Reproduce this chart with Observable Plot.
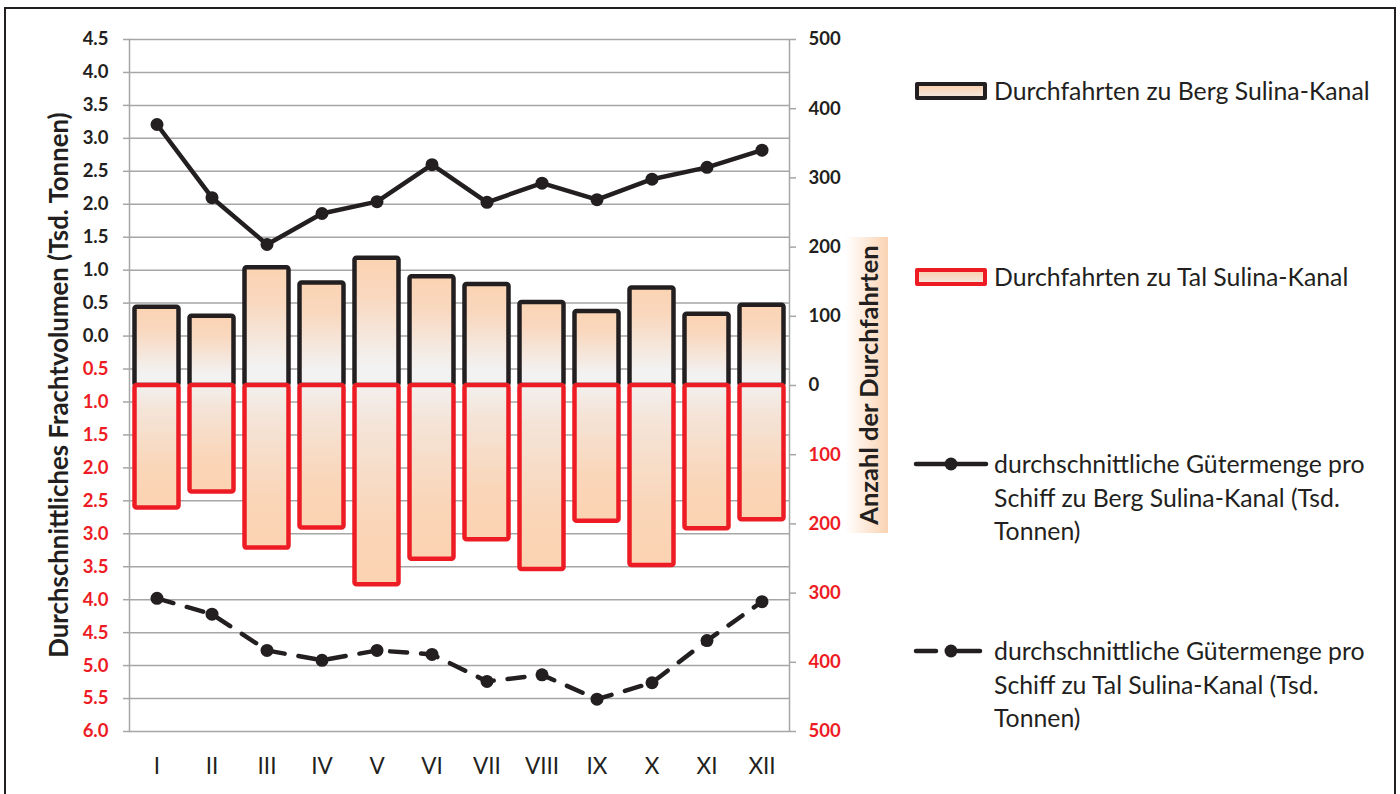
<!DOCTYPE html>
<html>
<head>
<meta charset="utf-8">
<script src="https://cdn.jsdelivr.net/npm/d3@7"></script>
<script src="https://cdn.jsdelivr.net/npm/@observablehq/plot@0.6"></script>
<style>
  html, body { margin: 0; padding: 0; background: #fff; }
  #wrap { position: relative; width: 1400px; height: 794px; overflow: hidden; font-family: Lato, "Open Sans", sans-serif; color: #231f20; }
  #border { position: absolute; left: 4px; top: 7px; width: 1392px; height: 820px; border: 2px solid #231f20; box-sizing: border-box; }
  #chart { position: absolute; left: 0; top: 0; }
  .lg { position: absolute; font-size: 24.8px; line-height: 33.5px; color: #231f20; white-space: nowrap; }
  .sw { position: absolute; box-sizing: border-box; width: 72px; height: 18px; border-radius: 2px; background: linear-gradient(to bottom, #fad2b1, #f5e6da); }
  #ltitle { position: absolute; left: 58px; top: 385px; transform: translate(-50%, -50%) rotate(-90deg); font-size: 25.8px; font-weight: bold; white-space: nowrap; }
  #rbox { position: absolute; left: 845px; top: 237px; width: 43px; height: 296px; background: linear-gradient(to right, #ffffff, #fad3b3); }
  #rtitle { position: absolute; left: 868px; top: 385px; transform: translate(-50%, -50%) rotate(-90deg); font-size: 25.5px; font-weight: bold; white-space: nowrap; }
</style>
</head>
<body>
<div id="wrap">
  <div id="chart"></div>
  <div id="border"></div>
  <div id="ltitle">Durchschnittliches Frachtvolumen (Tsd. Tonnen)</div>
  <div id="rbox"></div>
  <div id="rtitle">Anzahl der Durchfahrten</div>
  <div class="sw" style="left:915px;top:82px;border:4px solid #231f20;"></div>
  <div class="lg" style="left:994px;top:74px;">Durchfahrten zu Berg Sulina-Kanal</div>
  <div class="sw" style="left:915px;top:268px;border:4px solid #ed1c24;"></div>
  <div class="lg" style="left:994px;top:260px;">Durchfahrten zu Tal Sulina-Kanal</div>
  <svg style="position:absolute;left:912px;top:455px" width="80" height="18">
    <line x1="4" y1="9" x2="74" y2="9" stroke="#231f20" stroke-width="4.5" stroke-linecap="round"/>
    <circle cx="39" cy="9" r="6.5" fill="#231f20"/>
  </svg>
  <div class="lg" style="left:994px;top:447px;">durchschnittliche Gütermenge pro<br>Schiff zu Berg Sulina-Kanal (Tsd.<br>Tonnen)</div>
  <svg style="position:absolute;left:912px;top:642px" width="80" height="18">
    <line x1="4" y1="9" x2="24" y2="9" stroke="#231f20" stroke-width="4.5" stroke-linecap="round"/>
    <line x1="46" y1="9" x2="68" y2="9" stroke="#231f20" stroke-width="4.5" stroke-linecap="round"/>
    <circle cx="39" cy="9" r="6.5" fill="#231f20"/>
  </svg>
  <div class="lg" style="left:994px;top:634px;">durchschnittliche Gütermenge pro<br>Schiff zu Tal Sulina-Kanal (Tsd.<br>Tonnen)</div>
</div>
<script>
// ---- data ----
const months = ["I","II","III","IV","V","VI","VII","VIII","IX","X","XI","XII"];
const bergShips = [113,100,170,148,184,157,146,120,107,141,103,116];   // Durchfahrten zu Berg
const talShips  = [177,154,235,206,288,251,223,266,196,260,207,194];   // Durchfahrten zu Tal
const bergCargo = [3.21,2.10,1.39,1.86,2.04,2.60,2.03,2.32,2.07,2.38,2.56,2.82]; // Tsd. Tonnen
const talCargo  = [3.98,4.22,4.77,4.92,4.77,4.83,5.24,5.14,5.51,5.26,4.62,4.03]; // Tsd. Tonnen
const leftTicksUp   = [4.5,4.0,3.5,3.0,2.5,2.0,1.5,1.0,0.5,0.0];
const leftTicksDown = [0.5,1.0,1.5,2.0,2.5,3.0,3.5,4.0,4.5,5.0,5.5,6.0];
const rightTicksUp   = [500,400,300,200,100,0];
const rightTicksDown = [100,200,300,400,500];

// Mapping of ship counts (right axis) onto the left-axis scale
const cnt = c => c * 0.0105 - 0.75;
const uncnt = y => Math.round(Math.abs((y + 0.75) / 0.0105));

const ink = "#231f20", red = "#ed1c24", grid = "#a6a6a6";

const bars = months.map((m, i) => ({month: m, up: cnt(bergShips[i]), down: cnt(-talShips[i]), base: cnt(0)}));
const lineUp = months.map((m, i) => ({month: m, v: bergCargo[i]}));
const lineDown = months.map((m, i) => ({month: m, v: -talCargo[i]}));

const axisCommon = {label: null, fontSize: 18.5, fontWeight: "bold", stroke: grid, strokeWidth: 1.5, tickSize: 6};

const plot = Plot.plot({
  width: 1400, height: 794,
  marginLeft: 129, marginRight: 611, marginTop: 39, marginBottom: 63,
  style: {fontFamily: "Lato, 'Open Sans', sans-serif", background: "transparent", color: ink},
  x: {type: "band", domain: months, padding: 0, axis: null},
  y: {domain: [-6, 4.5], axis: null},
  marks: [
    Plot.gridY({ticks: [...leftTicksUp, ...leftTicksDown.map(d => -d)], stroke: grid, strokeOpacity: 1, strokeWidth: 1.5}),
    Plot.barY(bars, {x: "month", y1: "base", y2: "up", fill: "url(#gUp)", stroke: ink, strokeWidth: 4.5, insetLeft: 5.5, insetRight: 5.5, rx: 2, strokeLinejoin: "round"}),
    Plot.barY(bars, {x: "month", y1: "base", y2: "down", fill: "url(#gDown)", stroke: red, strokeWidth: 4.5, insetLeft: 5.5, insetRight: 5.5, rx: 2, strokeLinejoin: "round"}),
    Plot.line(lineUp, {x: "month", y: "v", stroke: ink, strokeWidth: 4.5, strokeLinecap: "round", strokeLinejoin: "round"}),
    Plot.dot(lineUp, {x: "month", y: "v", r: 6.5, fill: ink}),
    Plot.line(lineDown, {x: "month", y: "v", stroke: ink, strokeWidth: 4.5, strokeDasharray: "17,14", strokeLinecap: "round"}),
    Plot.dot(lineDown, {x: "month", y: "v", r: 6.5, fill: ink}),
    Plot.axisY({...axisCommon, anchor: "left", ticks: leftTicksUp, tickFormat: d => Math.abs(d).toFixed(1), tickPadding: 15, fill: ink}),
    Plot.axisY({...axisCommon, anchor: "left", ticks: leftTicksDown.map(d => -d), tickFormat: d => Math.abs(d).toFixed(1), tickPadding: 15, fill: red}),
    Plot.axisY({...axisCommon, anchor: "right", ticks: rightTicksUp.map(cnt), tickFormat: uncnt, tickPadding: 13, fill: ink}),
    Plot.axisY({...axisCommon, anchor: "right", ticks: rightTicksDown.map(c => cnt(-c)), tickFormat: uncnt, tickPadding: 13, fill: red}),
    Plot.axisX({label: null, tickSize: 0, tickPadding: 27, fontSize: 22.5, fill: ink}),
    Plot.frame({anchor: "left", stroke: grid, strokeWidth: 1.5}),
    Plot.frame({anchor: "right", stroke: grid, strokeWidth: 1.5})
  ]
});

const svg = d3.select(plot);
const defs = svg.insert("defs", ":first-child");
const gu = defs.append("linearGradient").attr("id", "gUp").attr("x1", 0).attr("y1", 0).attr("x2", 0).attr("y2", 1);
gu.append("stop").attr("offset", "0%").attr("stop-color", "#fbd3b2");
gu.append("stop").attr("offset", "30%").attr("stop-color", "#f9d8bf");
gu.append("stop").attr("offset", "85%").attr("stop-color", "#f2f2f2");
gu.append("stop").attr("offset", "100%").attr("stop-color", "#f2f2f2");
const gd = defs.append("linearGradient").attr("id", "gDown").attr("x1", 0).attr("y1", 0).attr("x2", 0).attr("y2", 1);
gd.append("stop").attr("offset", "0%").attr("stop-color", "#f2f0ee");
gd.append("stop").attr("offset", "20%").attr("stop-color", "#f4e4d8");
gd.append("stop").attr("offset", "70%").attr("stop-color", "#fad5b7");
gd.append("stop").attr("offset", "100%").attr("stop-color", "#fbd3b2");

document.getElementById("chart").appendChild(plot);
</script>
</body>
</html>
